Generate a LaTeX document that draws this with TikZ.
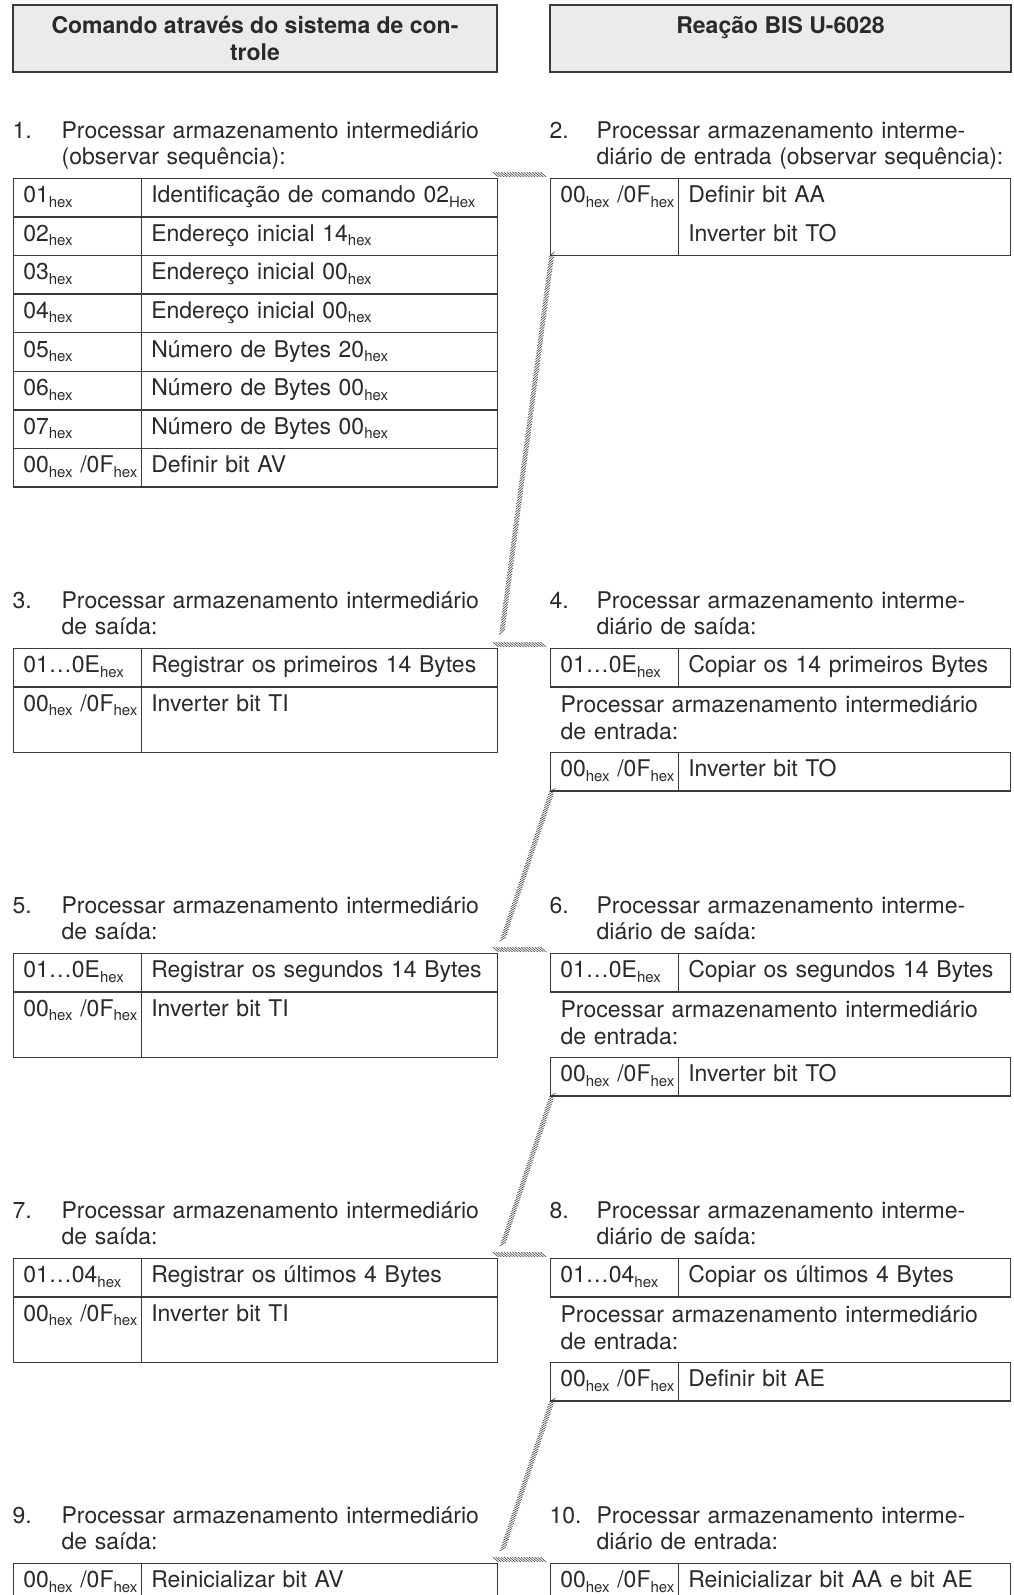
\documentclass[tikz,border=0pt]{standalone}
\usepackage{fontspec}
\setmainfont{TeX Gyre Heros}
\usetikzlibrary{matrix,decorations.pathreplacing}
\definecolor{rulegray}{HTML}{3A3A3A}
\definecolor{headgray}{HTML}{EBEBEB}
\definecolor{ink}{HTML}{2A2A2A}
\newcommand{\hx}{\raisebox{-4.5pt}{\fontsize{15}{15}\selectfont hex}}
\newcommand{\Hx}{\raisebox{-4.5pt}{\fontsize{15}{15}\selectfont Hex}}
\newcommand{\ofh}{\mbox{00\hx\ /0F\hx}}

\begin{document}
\begin{tikzpicture}[x=1pt,y=-1pt,line width=1.3pt,
		font=\fontsize{23}{26.5}\selectfont,text=ink,
		head/.style={draw=rulegray,line width=2pt,fill=headgray,anchor=north west,minimum height=67pt,align=center,font=\fontsize{23}{26.5}\selectfont\bfseries},
		num/.style={anchor=base west,inner sep=0pt},
		task/.style={anchor=base west,inner sep=0pt,text width=440pt,align=left},
		tab/.style={matrix of nodes,anchor=north west,inner sep=0pt,
			row sep=-\pgflinewidth,column sep=-\pgflinewidth,
			nodes={draw=rulegray,anchor=base,align=left,inner xsep=10pt,inner ysep=7.8pt,text height=16.5pt,text depth=6.5pt},
			column 1/.style={nodes={text width=108pt}}},
		tabc/.style={tab,column 2/.style={nodes={text width=336pt}}},
		tabr/.style={tab,column 2/.style={nodes={text width=312pt}}},
		hatch/.style={draw=rulegray,line width=0.55pt,decorate,decoration={border,segment length=2.8pt,amplitude=7.5pt,angle=140}}]
	\useasboundingbox (0,0) rectangle (1014,1595);

	\node[head,minimum width=484pt] (hc) at (12,4) {Comando através do sistema de con-\\trole};
	\node[head,minimum width=461pt] (hr) at (549,4) {Reação BIS U-6028\\\mbox{}};

	% 1 / 2
	\node[num] (n1) at (12,138) {1.};
	\node[task] (p1) at (61,138) {Processar armazenamento intermediário\\(observar sequência):};
	\matrix (c1) [tabc] at (12,177) {
		01\hx & Identificação de comando 02\Hx \\
		02\hx & Endereço inicial 14\hx \\
		03\hx & Endereço inicial 00\hx \\
		04\hx & Endereço inicial 00\hx \\
		05\hx & Número de Bytes 20\hx \\
		06\hx & Número de Bytes 00\hx \\
		07\hx & Número de Bytes 00\hx \\
		\ofh & Definir bit AV \\};
	\node[num] (n2) at (549,138) {2.};
	\node[task] (p2) at (596,138) {Processar armazenamento interme-\\diário de entrada (observar sequência):};
	\matrix (r2) [tabr,row 1/.style={nodes={text depth=45.1pt}}] at (549,177) {
		\ofh & |[font=\fontsize{23}{38.6}\selectfont]| Definir bit AA\newline Inverter bit TO \\};

	% 3 / 4
	\node[num] (n3) at (12,608) {3.};
	\node[task] (p3) at (61,608) {Processar armazenamento intermediário\\de saída:};
	\matrix (c3) [tabc,row 2/.style={nodes={text depth=33.3pt}}] at (12,647) {
		01…0E\hx & Registrar os primeiros 14 Bytes \\
		\ofh & Inverter bit TI \\};
	\node[num] (n4) at (549,608) {4.};
	\node[task] (p4) at (596,608) {Processar armazenamento interme-\\diário de saída:};
	\matrix (r4) [tabr] at (549,647) {01…0E\hx & Copiar os 14 primeiros Bytes \\};
	\node[task] (q4) at (560,712.6) {Processar armazenamento intermediário\\de entrada:};
	\matrix (r4b) [tabr] at (549,751) {\ofh & Inverter bit TO \\};

	% 5 / 6
	\node[num] (n5) at (12,913) {5.};
	\node[task] (p5) at (61,913) {Processar armazenamento intermediário\\de saída:};
	\matrix (c5) [tabc,row 2/.style={nodes={text depth=33.3pt}}] at (12,952) {
		01…0E\hx & Registrar os segundos 14 Bytes \\
		\ofh & Inverter bit TI \\};
	\node[num] (n6) at (549,913) {6.};
	\node[task] (p6) at (596,913) {Processar armazenamento interme-\\diário de saída:};
	\matrix (r6) [tabr] at (549,952) {01…0E\hx & Copiar os segundos 14 Bytes \\};
	\node[task] (q6) at (560,1017.6) {Processar armazenamento intermediário\\de entrada:};
	\matrix (r6b) [tabr] at (549,1056) {\ofh & Inverter bit TO \\};

	% 7 / 8
	\node[num] (n7) at (12,1218) {7.};
	\node[task] (p7) at (61,1218) {Processar armazenamento intermediário\\de saída:};
	\matrix (c7) [tabc,row 2/.style={nodes={text depth=33.3pt}}] at (12,1257) {
		01…04\hx & Registrar os últimos 4 Bytes \\
		\ofh & Inverter bit TI \\};
	\node[num] (n8) at (549,1218) {8.};
	\node[task] (p8) at (596,1218) {Processar armazenamento interme-\\diário de saída:};
	\matrix (r8) [tabr] at (549,1257) {01…04\hx & Copiar os últimos 4 Bytes \\};
	\node[task] (q8) at (560,1322.6) {Processar armazenamento intermediário\\de entrada:};
	\matrix (r8b) [tabr] at (549,1361) {\ofh & Definir bit AE \\};

	% 9 / 10
	\node[num] (n9) at (12,1523) {9.};
	\node[task] (p9) at (61,1523) {Processar armazenamento intermediário\\de saída:};
	\matrix (c9) [tabc,row 1/.style={nodes={text depth=33.3pt}}] at (12,1562) {\ofh & Reinicializar bit AV \\};
	\node[num] (n10) at (549,1523) {10.};
	\node[task] (p10) at (596,1523) {Processar armazenamento interme-\\diário de entrada:};
	\matrix (r10) [tabr,row 1/.style={nodes={text depth=33.3pt}}] at (549,1562) {\ofh & Reinicializar bit AA e bit AE \\};

	\path[every edge/.style={hatch}]
		(c1.north east) edge (r2.north west)
		(r2.south west) edge ([yshift=8pt]c3.north east)
		(c3.north east) edge (r4.north west)
		(r4b.south west) edge ([yshift=8pt]c5.north east)
		(c5.north east) edge (r6.north west)
		(r6b.south west) edge ([yshift=8pt]c7.north east)
		(c7.north east) edge (r8.north west)
		(r8b.south west) edge ([yshift=8pt]c9.north east)
		(c9.north east) edge (r10.north west);
\end{tikzpicture}
\end{document}
